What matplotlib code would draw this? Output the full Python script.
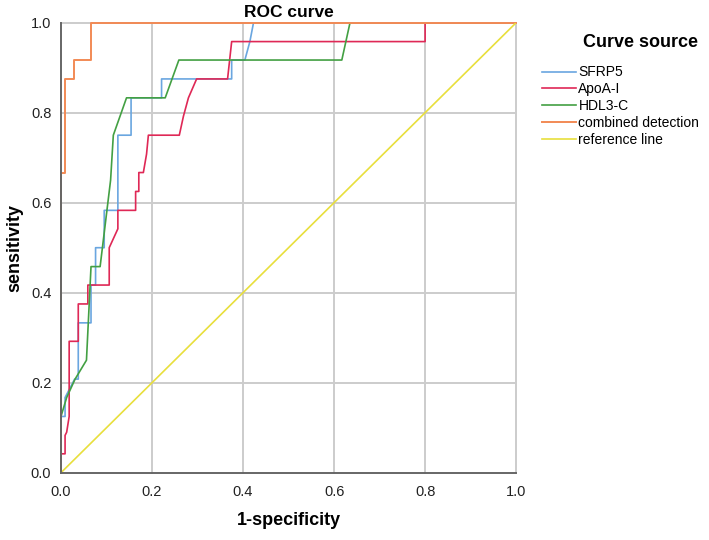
import matplotlib
matplotlib.use("Agg")
import matplotlib.pyplot as plt

plt.rcParams['font.family'] = ['Liberation Sans', 'DejaVu Sans']

# ROC points (x = 1-specificity, y = sensitivity)
sfrp5_x = [0, 0, 0.009, 0.009, 0.03, 0.038, 0.038, 0.066, 0.066, 0.076, 0.076, 0.095, 0.095,
           0.125, 0.125, 0.154, 0.154, 0.221, 0.221, 0.375, 0.375, 0.404, 0.415, 0.423, 1.0]
sfrp5_y = [0, 0.125, 0.125, 0.167, 0.208, 0.208, 0.333, 0.333, 0.417, 0.417, 0.5, 0.5, 0.583,
           0.583, 0.75, 0.75, 0.833, 0.833, 0.875, 0.875, 0.917, 0.917, 0.958, 1.0, 1.0]

apoa1_x = [0, 0, 0.009, 0.009, 0.0125, 0.018, 0.018, 0.038, 0.038, 0.059, 0.059, 0.106, 0.106,
           0.125, 0.125, 0.164, 0.164, 0.171, 0.171, 0.181, 0.188, 0.192, 0.26, 0.269, 0.28,
           0.298, 0.366, 0.375, 0.8, 0.8, 1.0]
apoa1_y = [0, 0.042, 0.042, 0.083, 0.09, 0.125, 0.292, 0.292, 0.375, 0.375, 0.417, 0.417, 0.5,
           0.542, 0.583, 0.583, 0.625, 0.625, 0.667, 0.667, 0.708, 0.75, 0.75, 0.792, 0.833,
           0.875, 0.875, 0.958, 0.958, 1.0, 1.0]

hdl3c_x = [0, 0, 0.0125, 0.031, 0.056, 0.066, 0.086, 0.109, 0.115, 0.144, 0.229, 0.259,
           0.617, 0.635, 1.0]
hdl3c_y = [0, 0.125, 0.167, 0.208, 0.25, 0.458, 0.458, 0.65, 0.75, 0.833, 0.833, 0.917,
           0.917, 1.0, 1.0]

combined_x = [0, 0, 0.009, 0.009, 0.029, 0.029, 0.066, 0.066, 1.0]
combined_y = [0, 0.667, 0.667, 0.875, 0.875, 0.917, 0.917, 1.0, 1.0]

ref_x = [0, 1]
ref_y = [0, 1]

ticks = [0.0, 0.2, 0.4, 0.6, 0.8, 1.0]

fig = plt.figure(figsize=(7.09, 5.40), dpi=100)
ax = fig.add_axes([0.086, 0.1246, 0.642, 0.8334])

grid_c = '#cccccc'
for t in ticks[1:]:
    ax.axvline(t, color=grid_c, lw=1.4, zorder=0, clip_on=False)
    ax.axhline(t, color=grid_c, lw=1.4, zorder=0, clip_on=False)

ax.plot(sfrp5_x, sfrp5_y, color='#6aa6e0', lw=1.2, label='SFRP5')
ax.plot(apoa1_x, apoa1_y, color='#df2856', lw=1.2, label='ApoA-I')
ax.plot(hdl3c_x, hdl3c_y, color='#43a043', lw=1.2, label='HDL3-C')
ax.plot(combined_x, combined_y, color='#f28a55', lw=1.4, label='combined detection', clip_on=False)
ax.plot(ref_x, ref_y, color='#e8df3c', lw=1.2, label='reference line')

ax.set_xlim(0, 1)
ax.set_ylim(0, 1)
ax.set_xticks(ticks)
ax.set_yticks(ticks)
ax.set_xticklabels([f'{t:.1f}' for t in ticks])
ax.set_yticklabels([f'{t:.1f}' for t in ticks])
ax.tick_params(axis='x', length=0, pad=9, labelsize=10.5, colors='#222222')
ax.tick_params(axis='y', length=0, pad=7, labelsize=10.5, colors='#222222')

for s in ['top', 'right']:
    ax.spines[s].set_visible(False)
ax.spines['left'].set_color('#666666')
ax.spines['bottom'].set_color('#666666')
ax.spines['left'].set_linewidth(1.4)
ax.spines['bottom'].set_linewidth(1.4)

ax.set_xlabel('1-specificity', fontsize=13, fontweight='bold', labelpad=9)
ax.set_ylabel('sensitivity', fontsize=13, fontweight='bold', labelpad=5)
ax.set_title('ROC curve', fontsize=12.5, fontweight='bold', pad=4)

leg = fig.legend(loc='upper left', bbox_to_anchor=(0.757, 0.889), frameon=False,
                 fontsize=10, handlelength=2.4,
                 handletextpad=0.2, labelspacing=0.2, borderaxespad=0)
fig.text(0.904, 0.922, 'Curve source', fontsize=13, fontweight='bold',
         ha='center', va='center')

fig.savefig('out.png', dpi=100)
